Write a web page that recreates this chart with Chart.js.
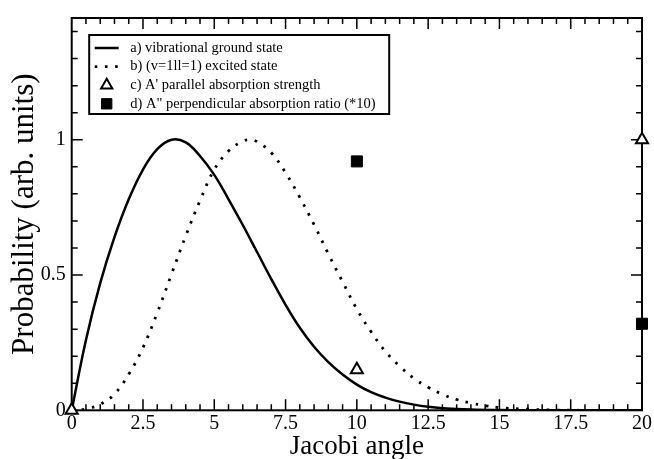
<!DOCTYPE html>
<html>
<head>
<meta charset="utf-8">
<script src="https://cdn.jsdelivr.net/npm/chart.js@4.4.1/dist/chart.umd.min.js"></script>
<style>
  html, body { margin: 0; padding: 0; background: #fff; }
</style>
</head>
<body>
<canvas id="chart" width="654" height="459"></canvas>
<script>
// vibrational ground state probability vs Jacobi angle
const groundAngle = [0, 0.5, 1, 1.5, 2, 2.5, 3, 3.5, 4, 4.5, 5, 5.5, 6, 6.5, 7, 7.5, 8, 8.5, 9, 9.5, 10, 10.5, 11, 11.5, 12, 12.5, 13, 14, 15, 16, 20];
const groundProb  = [0, 0.26, 0.47, 0.64, 0.78, 0.89, 0.965, 1.0, 0.99, 0.94, 0.87, 0.78, 0.685, 0.585, 0.485, 0.39, 0.305, 0.235, 0.178, 0.132, 0.095, 0.067, 0.047, 0.032, 0.021, 0.013, 0.008, 0.003, 0.001, 0, 0];

// (v=1 l=1) excited state
const excitedAngle = [0, 0.5, 1, 1.5, 2, 2.5, 3, 3.5, 4, 4.5, 5, 5.5, 6, 6.25, 6.5, 7, 7.5, 8, 8.5, 9, 9.5, 10, 10.5, 11, 11.5, 12, 12.5, 13, 13.5, 14, 14.5, 15, 16, 17, 18, 20];
const excitedProb  = [0, 0.005, 0.022, 0.06, 0.133, 0.232, 0.36, 0.503, 0.645, 0.775, 0.89, 0.958, 0.995, 1.0, 0.993, 0.952, 0.878, 0.787, 0.686, 0.578, 0.475, 0.374, 0.29, 0.218, 0.163, 0.118, 0.085, 0.059, 0.04, 0.027, 0.017, 0.01, 0.004, 0.001, 0, 0];

// absorption markers
const parallelAngle = [0, 10, 20];
const parallelValue = [0, 0.15, 1.0];
const perpAngle = [10, 20];
const perpValue = [0.92, 0.32];

const xTicks = [0, 2.5, 5, 7.5, 10, 12.5, 15, 17.5, 20];
const yTicks = [0, 0.5, 1];

const seriesLabels = [
  'a) vibrational ground state',
  'b) (v=1ll=1) excited state',
  "c) A' parallel absorption strength",
  'd) A" perpendicular absorption ratio (*10)'
];

const SERIF = '"Liberation Serif", "Times New Roman", serif';
const toPoints = (xs, ys) => xs.map((x, i) => ({ x: x, y: ys[i] }));

// box around the plot with inward major/minor ticks on all four sides
const frameTicks = {
  id: 'frameTicks',
  beforeDatasetsDraw(chart) {
    const { ctx, chartArea: a, scales: { x, y } } = chart;
    ctx.save();
    ctx.strokeStyle = '#000';
    ctx.lineWidth = 1.5;
    ctx.beginPath();
    for (let i = 1; i < 40; i++) {
      const px = x.getPixelForValue(i * 0.5);
      const len = i % 5 === 0 ? 11 : 6;
      ctx.moveTo(px, a.bottom); ctx.lineTo(px, a.bottom - len);
      ctx.moveTo(px, a.top); ctx.lineTo(px, a.top + len);
    }
    for (let i = 1; i <= 14; i++) {
      const py = y.getPixelForValue(i * 0.1);
      const len = i % 5 === 0 ? 11 : 6;
      ctx.moveTo(a.left, py); ctx.lineTo(a.left + len, py);
      ctx.moveTo(a.right, py); ctx.lineTo(a.right - len, py);
    }
    ctx.stroke();
    ctx.lineWidth = 2;
    ctx.strokeRect(a.left, a.top, a.right - a.left, a.bottom - a.top);
    ctx.restore();
  }
};

// legend box in the upper left corner of the plot
const insetLegend = {
  id: 'insetLegend',
  afterDraw(chart) {
    const { ctx, chartArea: a } = chart;
    const left = a.left + 17.5, top = a.top + 17, w = 300, h = 79;
    ctx.save();
    ctx.fillStyle = '#fff';
    ctx.fillRect(left, top, w, h);
    ctx.strokeStyle = '#000';
    ctx.lineWidth = 2;
    ctx.strokeRect(left, top, w, h);

    const sx = left + 17.5;
    const order = [2, 3, 0, 1];
    seriesLabels.forEach((label, i) => {
      const ry = top + 13 + i * 18.6;
      const ds = chart.data.datasets[order[i]];
      ctx.save();
      if (ds.showLine) {
        ctx.strokeStyle = '#000';
        ctx.lineWidth = ds.borderWidth;
        ctx.setLineDash(ds.borderDash || []);
        ctx.beginPath();
        ctx.moveTo(sx - 12, ry);
        ctx.lineTo(sx + 12, ry);
        ctx.stroke();
      } else {
        ctx.fillStyle = ds.backgroundColor;
        ctx.strokeStyle = ds.borderColor;
        ctx.lineWidth = ds.borderWidth;
        Chart.helpers.drawPoint(ctx, {
          pointStyle: ds.pointStyle,
          radius: ds.pointRadius - 0.5,
          rotation: 0,
          borderWidth: ds.borderWidth
        }, sx, ry);
      }
      ctx.restore();
      ctx.fillStyle = '#000';
      ctx.font = '14.5px ' + SERIF;
      ctx.textBaseline = 'middle';
      ctx.textAlign = 'left';
      ctx.fillText(label, left + 41, ry);
    });
    ctx.restore();
  }
};

new Chart(document.getElementById('chart'), {
  type: 'scatter',
  data: {
    datasets: [
      {
        label: seriesLabels[2],
        data: toPoints(parallelAngle, parallelValue),
        pointStyle: 'triangle',
        pointRadius: 7,
        borderWidth: 2,
        borderColor: '#000',
        backgroundColor: '#fff',
        clip: false,
        order: 0
      },
      {
        label: seriesLabels[3],
        data: toPoints(perpAngle, perpValue),
        pointStyle: 'rect',
        pointRadius: 7.8,
        borderWidth: 1,
        borderColor: '#000',
        backgroundColor: '#000',
        clip: false,
        order: 0
      },
      {
        label: seriesLabels[0],
        data: toPoints(groundAngle, groundProb),
        showLine: true,
        borderColor: '#000',
        borderWidth: 2.5,
        pointRadius: 0,
        tension: 0.4,
        order: 1
      },
      {
        label: seriesLabels[1],
        data: toPoints(excitedAngle, excitedProb),
        showLine: true,
        borderColor: '#000',
        borderWidth: 2.8,
        borderDash: [2.6, 7.6],
        borderCapStyle: 'butt',
        pointRadius: 0,
        tension: 0.4,
        order: 1
      }
    ]
  },
  options: {
    responsive: false,
    animation: false,
    devicePixelRatio: 1,
    layout: { padding: { left: 0, top: 11, right: 12, bottom: 0 } },
    plugins: {
      legend: { display: false },
      tooltip: { enabled: false }
    },
    scales: {
      x: {
        type: 'linear',
        min: 0,
        max: 20,
        afterBuildTicks: s => { s.ticks = xTicks.map(v => ({ value: v })); },
        afterFit: s => { s.height = 48.7; },
        grid: { display: false, drawTicks: false },
        border: { display: false },
        ticks: { color: '#000', padding: 1.5, maxRotation: 0, autoSkip: false, callback: v => String(v), font: { family: SERIF, size: 20 } },
        title: { display: true, text: 'Jacobi angle', color: '#000', padding: { top: 0, bottom: 0 }, font: { family: SERIF, size: 27, lineHeight: 0.9 } }
      },
      y: {
        type: 'linear',
        min: 0,
        max: 1.45,
        afterBuildTicks: s => { s.ticks = yTicks.map(v => ({ value: v })); },
        afterFit: s => { s.width = 71.7; },
        grid: { display: false, drawTicks: false },
        border: { display: false },
        ticks: { color: '#000', padding: 6, callback: v => String(v), font: { family: SERIF, size: 20 } },
        title: { display: true, text: 'Probability (arb. units)', color: '#000', padding: { top: 9, bottom: 0 }, font: { family: SERIF, size: 31, lineHeight: 1 } }
      }
    }
  },
  plugins: [frameTicks, insetLegend]
});
</script>
</body>
</html>
